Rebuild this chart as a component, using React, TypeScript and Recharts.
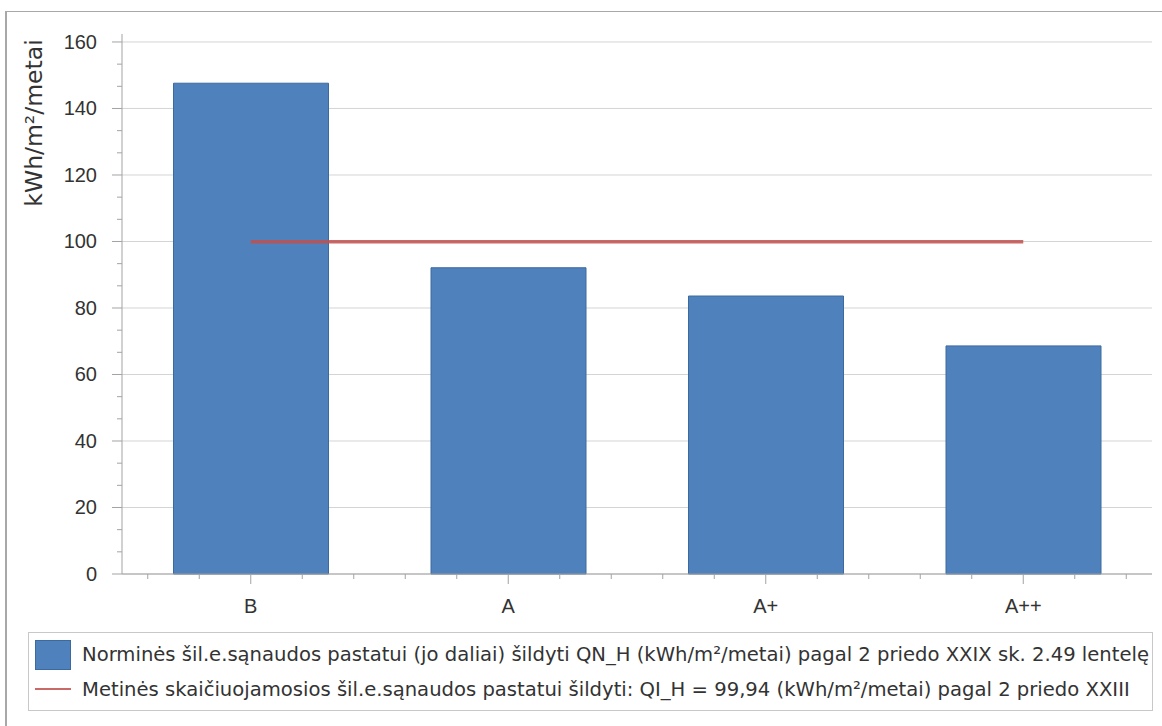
import React from 'react';
import { ComposedChart, Bar, Line, XAxis, YAxis, CartesianGrid } from 'recharts';

// categories on the x axis
const categories = ['B', 'A', 'A+', 'A++'];
// normative heating energy per class (kWh/m²/metai)
const normValues = [147.6, 92.1, 83.6, 68.6];
// calculated annual heating energy, same for every class
const calcValues = [99.94, 99.94, 99.94, 99.94];
// labelled y ticks
const yTicks = [0, 20, 40, 60, 80, 100, 120, 140, 160];
const yMax = 162.4;

const yLabel = 'kWh/m²/metai';
const normName =
  'Norminės šil.e.sąnaudos pastatui (jo daliai) šildyti QN_H (kWh/m²/metai) pagal 2 priedo XXIX sk. 2.49 lentelę';
const calcName =
  'Metinės skaičiuojamosios šil.e.sąnaudos pastatui šildyti: QI_H = 99,94 (kWh/m²/metai) pagal 2 priedo XXIII';

const data = categories.map((name, i) => ({ name, norm: normValues[i], calc: calcValues[i] }));

// two minor ticks between every pair of labelled ticks
const yAllTicks = yTicks.flatMap((v, i) => {
  if (i === yTicks.length - 1) return [v];
  const step = (yTicks[i + 1] - v) / 3;
  return [v, v + step, v + 2 * step];
});

const WIDTH = 1162;
const HEIGHT = 726;
const PLOT = { left: 122, right: 1152, top: 34, bottom: 574 };
const X_AXIS_H = 60;
const BAND = (PLOT.right - PLOT.left) / categories.length;

const AXIS = '#a3a3a3';
const GRID = '#d4d4d4';
const FRAME = '#bfbfbf';
const TEXT = '#333333';
const BAR_FILL = '#4f81bd';
const BAR_EDGE = '#3d6a9e';
const LINE = '#c0504d';
const FONT = '"Liberation Sans", Arial, sans-serif';
const WIDE_FONT = '"DejaVu Sans", sans-serif';

const YTick = (props: any) => {
  const { x, y, payload } = props;
  const major = yTicks.includes(payload.value);
  return (
    <g>
      <line x1={x - (major ? 10 : 5)} x2={x} y1={y} y2={y} stroke={AXIS} />
      {major && (
        <text x={x - 25} y={y} dy={7} textAnchor="end" fill={TEXT} fontSize={20} fontFamily={FONT}>
          {payload.value}
        </text>
      )}
    </g>
  );
};

const XTick = (props: any) => {
  const { x, y, payload } = props;
  return (
    <g>
      <line x1={x} x2={x} y1={y} y2={y + 10} stroke={AXIS} />
      {[-2, -1, 1, 2].map((k) => (
        <line key={k} x1={x + (k * BAND) / 5} x2={x + (k * BAND) / 5} y1={y} y2={y + 5} stroke={AXIS} />
      ))}
      <text x={x} y={y + 39} textAnchor="middle" fill={TEXT} fontSize={20} fontFamily={FONT}>
        {payload.value}
      </text>
    </g>
  );
};

const YLabel = () => (
  <text
    x={42}
    y={123}
    transform="rotate(-90, 42, 123)"
    textAnchor="middle"
    fill={TEXT}
    fontSize={23.5}
    fontFamily={WIDE_FONT}
  >
    {yLabel}
  </text>
);

export default function App() {
  return (
    <div style={{ position: 'absolute', left: 0, top: 0, width: WIDTH, height: HEIGHT, background: '#fff', overflow: 'hidden' }}>
      <div
        style={{
          position: 'absolute',
          left: 5,
          top: 11,
          width: WIDTH,
          height: HEIGHT,
          borderTop: '1px solid #a8a8a8',
          borderLeft: '2px solid #a8a8a8',
        }}
      />
      <div style={{ position: 'absolute', left: 0, top: 0 }}>
        <ComposedChart
          width={WIDTH}
          height={HEIGHT}
          data={data}
          margin={{ top: PLOT.top, right: WIDTH - PLOT.right, bottom: HEIGHT - PLOT.bottom - X_AXIS_H, left: 0 }}
          barCategoryGap="20%"
        >
          <CartesianGrid vertical={false} horizontalValues={yTicks} stroke={GRID} />
          <XAxis
            dataKey="name"
            height={X_AXIS_H}
            axisLine={{ stroke: AXIS }}
            tickLine={false}
            tickSize={0}
            tickMargin={0}
            interval={0}
            tick={<XTick />}
          />
          <XAxis
            xAxisId="top"
            orientation="top"
            dataKey="name"
            height={0}
            axisLine={{ stroke: FRAME }}
            tickLine={false}
            tick={false}
          />
          <YAxis
            domain={[0, yMax]}
            ticks={yAllTicks}
            width={PLOT.left}
            axisLine={{ stroke: AXIS }}
            tickLine={false}
            tickSize={0}
            tickMargin={0}
            interval={0}
            tick={<YTick />}
            label={<YLabel />}
          />
          <YAxis
            yAxisId="right"
            orientation="right"
            domain={[0, yMax]}
            width={0}
            axisLine={{ stroke: FRAME }}
            tickLine={false}
            tick={false}
          />
          <Bar dataKey="norm" name={normName} fill={BAR_FILL} stroke={BAR_EDGE} strokeWidth={1} isAnimationActive={false} />
          <Line
            dataKey="calc"
            name={calcName}
            type="linear"
            stroke={LINE}
            strokeWidth={3.5}
            strokeOpacity={0.85}
            dot={false}
            activeDot={false}
            isAnimationActive={false}
          />
        </ComposedChart>
      </div>
      {/* legend */}
      <div
        style={{
          position: 'absolute',
          left: 28,
          top: 632,
          width: 1123,
          height: 77,
          border: '1px solid #c8c8c8',
          overflow: 'hidden',
          fontFamily: WIDE_FONT,
          fontSize: 19.6,
          color: TEXT,
          whiteSpace: 'nowrap',
        }}
      >
        <div
          style={{
            position: 'absolute',
            left: 6,
            top: 7,
            width: 34,
            height: 28,
            background: BAR_FILL,
            border: `1px solid ${BAR_EDGE}`,
          }}
        />
        <div style={{ position: 'absolute', left: 53, top: 11, lineHeight: '22px' }}>{normName}</div>
        <div style={{ position: 'absolute', left: 6, top: 55, width: 36, height: 2, background: LINE, opacity: 0.85 }} />
        <div style={{ position: 'absolute', left: 53, top: 46, lineHeight: '22px' }}>{calcName}</div>
      </div>
    </div>
  );
}
